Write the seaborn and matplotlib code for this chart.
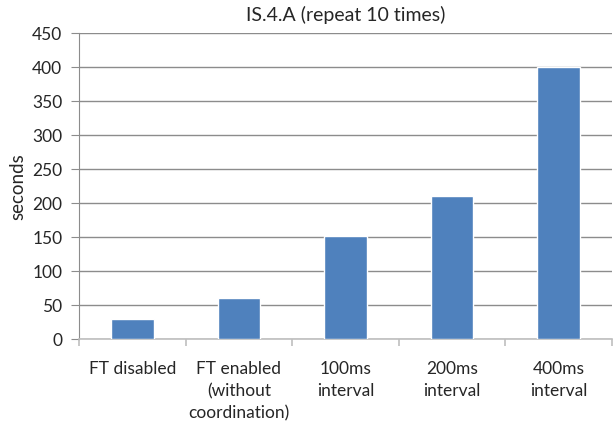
import matplotlib
matplotlib.use("Agg")
import matplotlib.pyplot as plt
import seaborn as sns
import pandas as pd
import numpy as np

categories = ["FT disabled", "FT enabled\n(without\ncoordination)", "100ms\ninterval",
              "200ms\ninterval", "400ms\ninterval"]
seconds = [30, 61, 151, 210, 400]
y_ticks = [0, 50, 100, 150, 200, 250, 300, 350, 400, 450]

sns.set_style("white")
plt.rcParams["font.family"] = ["Lato", "DejaVu Sans"]

df = pd.DataFrame({"category": categories, "seconds": seconds})

W, H = 613, 430
fig = plt.figure(figsize=(W / 100, H / 100), dpi=100)
left, right, bottom, top = 79, 612, 339, 33.4
ax = fig.add_axes([left / W, 1 - bottom / H, (right - left) / W, (bottom - top) / H])

sns.barplot(data=df, x="category", y="seconds", color="#4F81BD", saturation=1,
            width=0.40, ax=ax, zorder=3)

ax.set_ylim(0, 450)
ax.set_yticks(y_ticks)
ax.set_xlim(-0.5, len(categories) - 0.5)
ax.yaxis.grid(True, color="#8C8C8C", linewidth=1.0, zorder=0)
ax.set_axisbelow(True)

for side in ["top", "right"]:
    ax.spines[side].set_visible(False)
ax.spines["left"].set_color("#8C8C8C")
ax.spines["bottom"].set_color("#BFBFBF")
ax.spines["bottom"].set_linewidth(1.2)

# category separators below the x-axis
ax.set_xticks(np.arange(-0.5, len(categories)), minor=True)
ax.tick_params(axis="x", which="minor", length=5, color="#BFBFBF", width=1.2,
               direction="out", bottom=True)
ax.tick_params(axis="x", which="major", length=0, pad=16, labelsize=12.5)
ax.tick_params(axis="y", length=6, color="#8C8C8C", direction="out", left=True,
               labelsize=12.5, pad=6)
for lbl in ax.get_xticklabels():
    lbl.set_linespacing(1.45)

ax.set_xlabel("")
ax.set_ylabel("seconds", fontsize=13.5)
ax.yaxis.set_label_coords(-0.098, 0.5)
ax.set_title("IS.4.A (repeat 10 times)", fontsize=14, pad=9)

fig.savefig("out.png", dpi=100)
